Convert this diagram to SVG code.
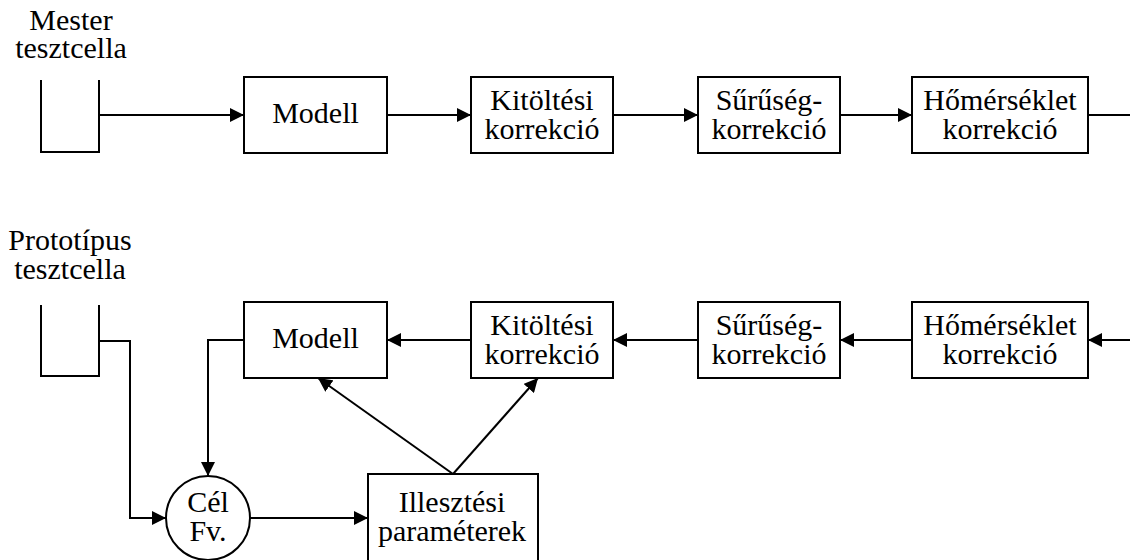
<svg xmlns="http://www.w3.org/2000/svg" width="1130" height="560" viewBox="0 0 1130 560">
<defs>
<style>
.box{fill:#fff;stroke:#000;stroke-width:2}
.ln{fill:none;stroke:#000;stroke-width:2}
text{font-family:'Liberation Serif','Times New Roman',serif;font-size:30px;fill:#000;text-anchor:middle}
</style>
<marker id="ah" viewBox="0 0 14 14" refX="14" refY="7" markerWidth="14" markerHeight="14" markerUnits="userSpaceOnUse" orient="auto">
<path d="M0,0 L14,7 L0,14 Z" fill="#000"/>
</marker>
</defs>
<rect width="1130" height="560" fill="#fff"/>

<g id="mester">
<text x="71" y="30">Mester</text>
<text x="71" y="58">tesztcella</text>
<path class="ln" d="M41,80 V152 H99 V80"/>
</g>
<g id="modell1"><rect class="box" x="244" y="77" width="143" height="76"/><text x="315.5" y="123">Modell</text></g>
<g id="kitoltesi1"><rect class="box" x="471" y="77" width="142" height="76"/><text x="542" y="110">Kitöltési</text><text x="542" y="139">korrekció</text></g>
<g id="suruseg1"><rect class="box" x="698" y="77" width="142" height="76"/><text x="769" y="110">Sűrűség-</text><text x="769" y="139">korrekció</text></g>
<g id="homerseklet1"><rect class="box" x="912" y="77" width="176" height="76"/><text x="1000" y="110">Hőmérséklet</text><text x="1000" y="139">korrekció</text></g>

<g id="prototipus">
<text x="70" y="250">Prototípus</text>
<text x="70" y="279">tesztcella</text>
<path class="ln" d="M41,305 V376 H99 V305"/>
</g>
<g id="modell2"><rect class="box" x="244" y="302" width="143" height="76"/><text x="315.5" y="348">Modell</text></g>
<g id="kitoltesi2"><rect class="box" x="471" y="302" width="142" height="76"/><text x="542" y="335">Kitöltési</text><text x="542" y="364">korrekció</text></g>
<g id="suruseg2"><rect class="box" x="698" y="302" width="142" height="76"/><text x="769" y="335">Sűrűség-</text><text x="769" y="364">korrekció</text></g>
<g id="homerseklet2"><rect class="box" x="912" y="302" width="176" height="76"/><text x="1000" y="335">Hőmérséklet</text><text x="1000" y="364">korrekció</text></g>
<g id="celfv"><circle class="box" cx="208" cy="518" r="42"/><text x="208" y="512">Cél</text><text x="208" y="541">Fv.</text></g>
<g id="illesztesi"><rect class="box" x="368" y="474" width="170" height="100"/><text x="452" y="512">Illesztési</text><text x="452" y="541">paraméterek</text></g>

<g id="connectors">
<line class="ln" x1="99" y1="115" x2="244" y2="115" marker-end="url(#ah)"/>
<line class="ln" x1="387" y1="115" x2="471" y2="115" marker-end="url(#ah)"/>
<line class="ln" x1="613" y1="115" x2="698" y2="115" marker-end="url(#ah)"/>
<line class="ln" x1="840" y1="115" x2="912" y2="115" marker-end="url(#ah)"/>
<line class="ln" x1="1088" y1="115" x2="1130" y2="115"/>
<line class="ln" x1="1130" y1="340" x2="1088" y2="340" marker-end="url(#ah)"/>
<line class="ln" x1="912" y1="340" x2="840" y2="340" marker-end="url(#ah)"/>
<line class="ln" x1="698" y1="340" x2="613" y2="340" marker-end="url(#ah)"/>
<line class="ln" x1="471" y1="340" x2="387" y2="340" marker-end="url(#ah)"/>
<path class="ln" d="M244,340 H208 V476" marker-end="url(#ah)"/>
<path class="ln" d="M99,341 H130 V518 H166" marker-end="url(#ah)"/>
<line class="ln" x1="250" y1="518" x2="368" y2="518" marker-end="url(#ah)"/>
<line class="ln" x1="453" y1="474" x2="318" y2="378" marker-end="url(#ah)"/>
<line class="ln" x1="453" y1="474" x2="538" y2="378" marker-end="url(#ah)"/>
</g>
</svg>
